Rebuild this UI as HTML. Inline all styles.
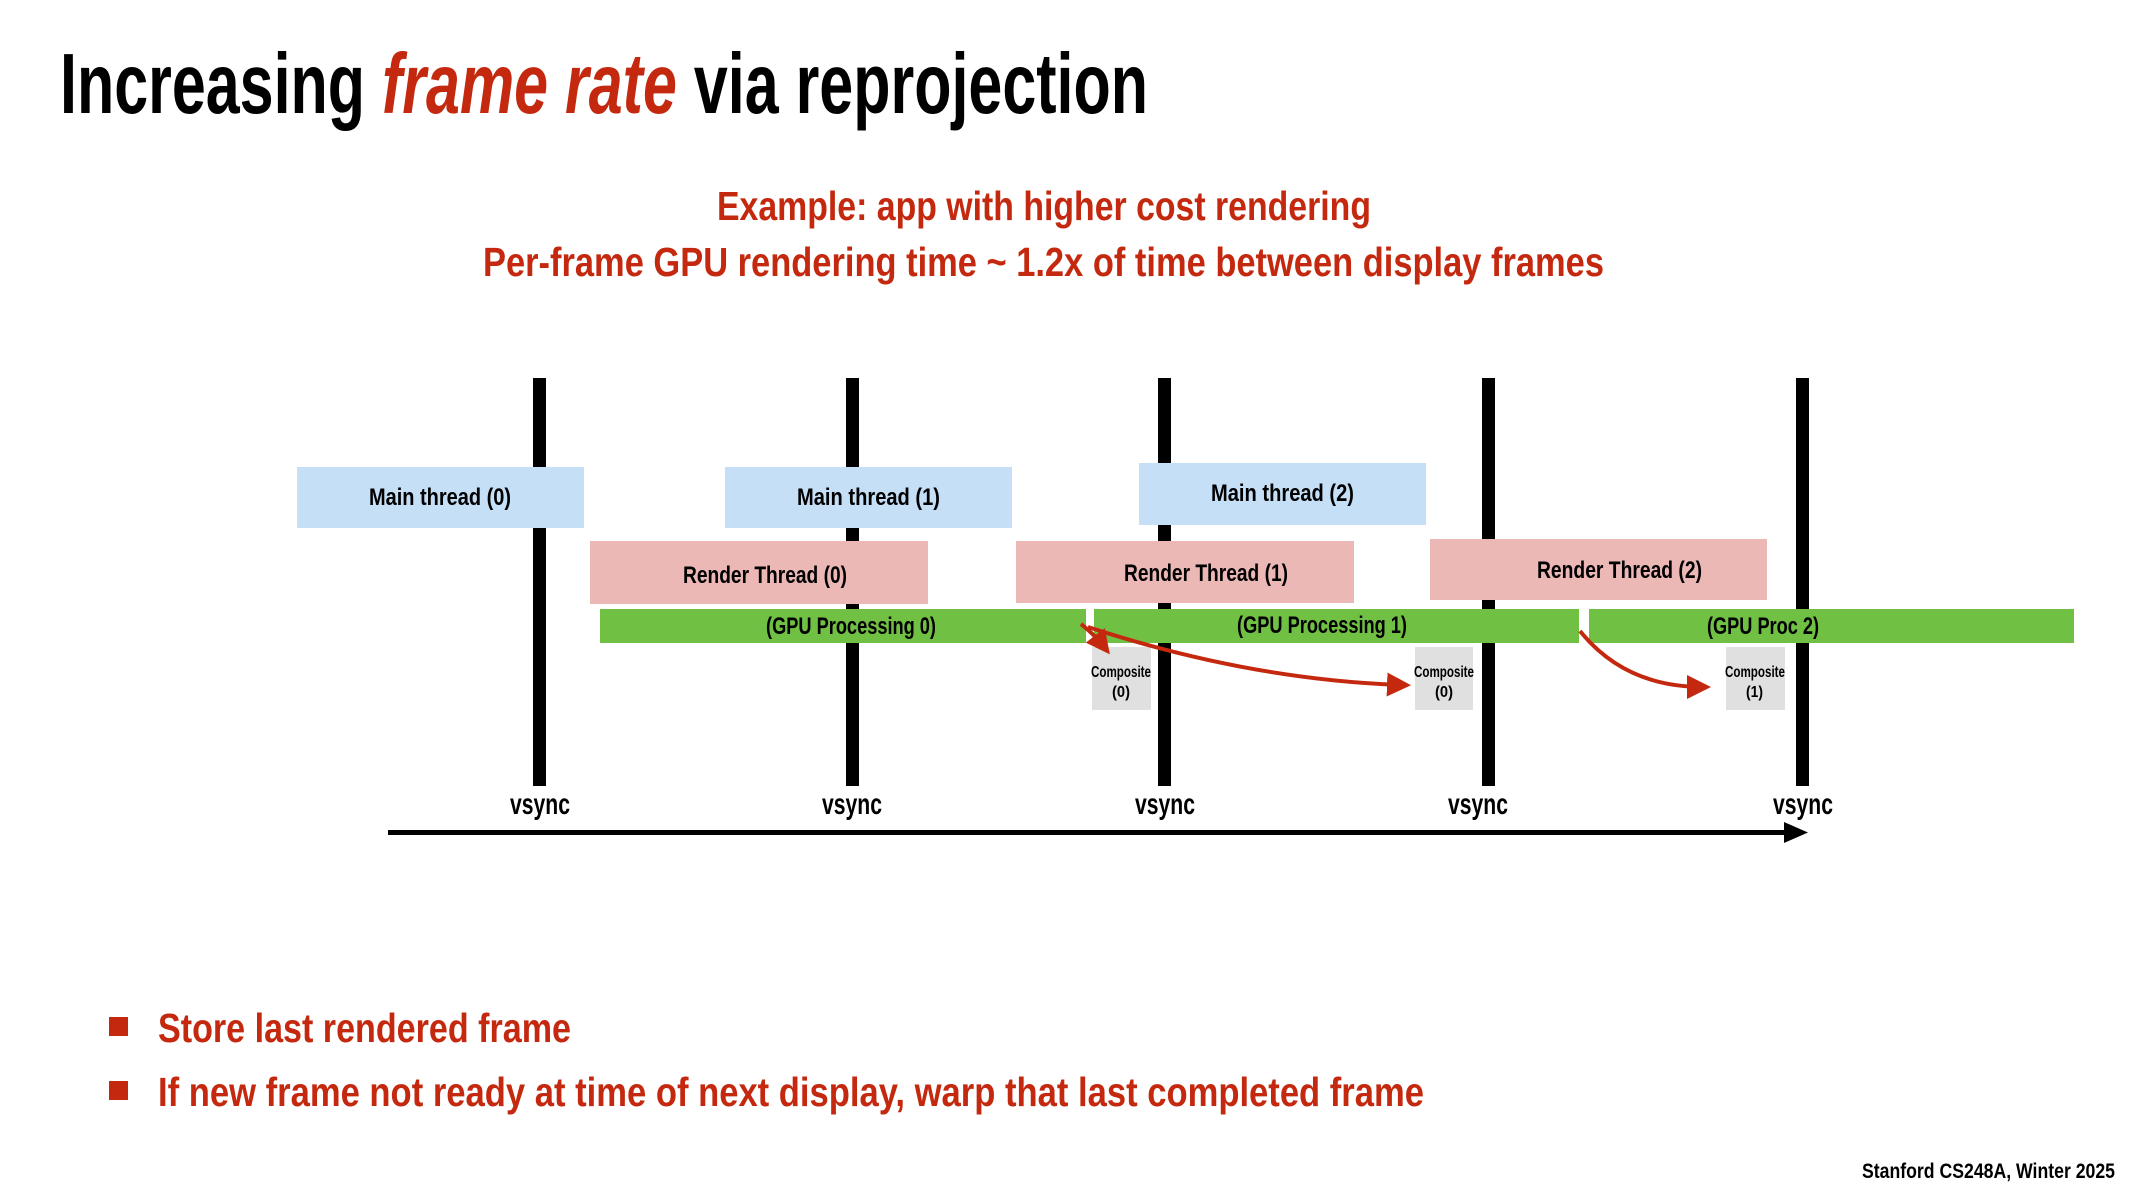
<!DOCTYPE html>
<html><head><meta charset="utf-8"><style>
html,body{margin:0;padding:0;background:#fff;}
svg{display:block;}
text{font-family:"Liberation Sans Narrow","Liberation Sans",sans-serif;font-weight:bold;}
</style></head><body>
<svg width="2133" height="1200" viewBox="0 0 2133 1200" xmlns="http://www.w3.org/2000/svg">
<defs>
<marker id="ah" markerWidth="6" markerHeight="6" refX="4" refY="3" orient="auto" markerUnits="strokeWidth"><path d="M0,0 L6,3 L0,6 z" fill="#c4290f"/></marker>
</defs>
<text x="60" y="113" font-size="85" textLength="1088" lengthAdjust="spacingAndGlyphs" fill="#000">Increasing <tspan fill="#c4290f" font-style="italic">frame rate</tspan> via reprojection</text>
<text x="717" y="220" font-size="41" textLength="654" lengthAdjust="spacingAndGlyphs" fill="#c4290f">Example: app with higher cost rendering</text>
<text x="483" y="276" font-size="41" textLength="1121" lengthAdjust="spacingAndGlyphs" fill="#c4290f">Per-frame GPU rendering time ~ 1.2x of time between display frames</text>

<g fill="#000">
<rect x="533" y="378" width="13" height="408"/>
<rect x="846" y="378" width="13" height="408"/>
<rect x="1158" y="378" width="13" height="408"/>
<rect x="1482" y="378" width="13" height="408"/>
<rect x="1796" y="378" width="13" height="408"/>
</g>

<rect x="297" y="467" width="287" height="61" fill="#c5dff7"/>
<rect x="725" y="467" width="287" height="61" fill="#c5dff7"/>
<rect x="1139" y="463" width="287" height="62" fill="#c5dff7"/>
<rect x="590" y="541" width="338" height="63" fill="#ecb8b6"/>
<rect x="1016" y="541" width="338" height="62" fill="#ecb8b6"/>
<rect x="1430" y="539" width="337" height="61" fill="#ecb8b6"/>
<rect x="600" y="609" width="486" height="34" fill="#70c044"/>
<rect x="1094" y="609" width="485" height="34" fill="#70c044"/>
<rect x="1589" y="609" width="485" height="34" fill="#70c044"/>
<rect x="1092" y="647" width="59" height="63" fill="#e0e0e0"/>
<rect x="1415" y="647" width="58" height="63" fill="#e0e0e0"/>
<rect x="1726" y="647" width="59" height="63" fill="#e0e0e0"/>

<g fill="#000" font-size="24">
<text x="369" y="505" textLength="142" lengthAdjust="spacingAndGlyphs">Main thread (0)</text>
<text x="797" y="505" textLength="143" lengthAdjust="spacingAndGlyphs">Main thread (1)</text>
<text x="1211" y="501" textLength="143" lengthAdjust="spacingAndGlyphs">Main thread (2)</text>
<text x="683" y="583" textLength="164" lengthAdjust="spacingAndGlyphs">Render Thread (0)</text>
<text x="1124" y="581" textLength="164" lengthAdjust="spacingAndGlyphs">Render Thread (1)</text>
<text x="1537" y="578" textLength="165" lengthAdjust="spacingAndGlyphs">Render Thread (2)</text>
<text x="766" y="634" textLength="170" lengthAdjust="spacingAndGlyphs">(GPU Processing 0)</text>
<text x="1237" y="633" textLength="170" lengthAdjust="spacingAndGlyphs">(GPU Processing 1)</text>
<text x="1707" y="634" textLength="112" lengthAdjust="spacingAndGlyphs">(GPU Proc 2)</text>
</g>
<g fill="#000" font-size="16">
<text x="1091" y="677" textLength="60" lengthAdjust="spacingAndGlyphs">Composite</text><text x="1112" y="697" textLength="18" lengthAdjust="spacingAndGlyphs">(0)</text>
<text x="1414" y="677" textLength="60" lengthAdjust="spacingAndGlyphs">Composite</text><text x="1435" y="697" textLength="18" lengthAdjust="spacingAndGlyphs">(0)</text>
<text x="1725" y="677" textLength="60" lengthAdjust="spacingAndGlyphs">Composite</text><text x="1746" y="697" textLength="17" lengthAdjust="spacingAndGlyphs">(1)</text>
</g>

<g stroke="#c4290f" stroke-width="4" fill="none" marker-end="url(#ah)">
<path d="M1081,624 Q1095,635 1105,648"/>
<path d="M1088,627 Q1250,680 1403,685"/>
<path d="M1580,631 Q1625,687 1703,687"/>
</g>

<g fill="#000" font-size="30">
<text x="510" y="814" textLength="60" lengthAdjust="spacingAndGlyphs">vsync</text>
<text x="822" y="814" textLength="60" lengthAdjust="spacingAndGlyphs">vsync</text>
<text x="1135" y="814" textLength="60" lengthAdjust="spacingAndGlyphs">vsync</text>
<text x="1448" y="814" textLength="60" lengthAdjust="spacingAndGlyphs">vsync</text>
<text x="1773" y="814" textLength="60" lengthAdjust="spacingAndGlyphs">vsync</text>
</g>
<rect x="388" y="830" width="1400" height="5" fill="#000"/>
<path d="M1784,822 L1808,832.5 L1784,843 z" fill="#000"/>

<rect x="109" y="1017" width="19" height="19" fill="#c4290f"/>
<rect x="109" y="1081" width="19" height="19" fill="#c4290f"/>
<text x="158" y="1042" font-size="41" fill="#c4290f" textLength="413" lengthAdjust="spacingAndGlyphs">Store last rendered frame</text>
<text x="158" y="1106" font-size="41" fill="#c4290f" textLength="1266" lengthAdjust="spacingAndGlyphs">If new frame not ready at time of next display, warp that last completed frame</text>
<text x="1862" y="1178" font-size="21" fill="#000" textLength="253" lengthAdjust="spacingAndGlyphs">Stanford CS248A, Winter 2025</text>
</svg>
</body></html>
